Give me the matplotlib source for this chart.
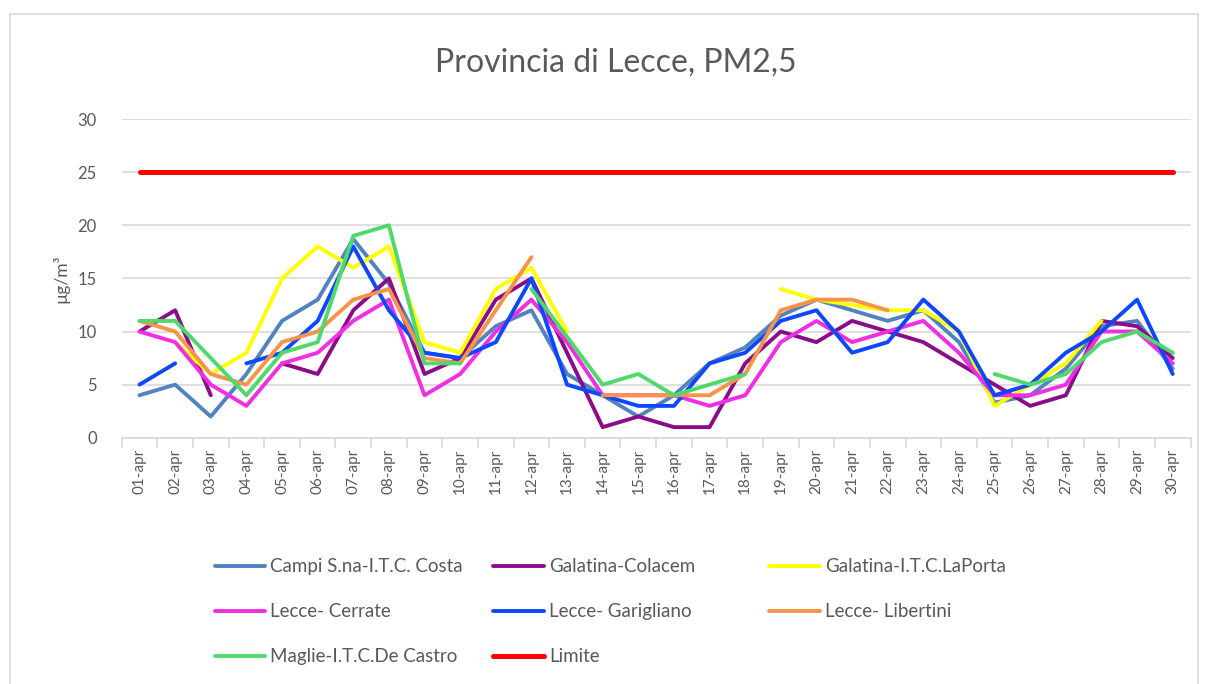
import numpy as np
import matplotlib
matplotlib.use("Agg")
import matplotlib.pyplot as plt
from matplotlib.patches import Rectangle

plt.rcParams['font.family'] = ['Lato', 'DejaVu Sans']

nan = np.nan
days = ["%02d-apr" % d for d in range(1, 31)]

# values (ug/m3), nan = missing
campi = [4, 5, 2, 6, 11, 13, 18.7, 14.5, 8, 7.5, 10.5, 12, 6, 4, 2, 4, 7, 8.5, 11.5, 13,
         12, 11, 12, 9, 3.3, 4, 6.5, 10.5, 11, 6.5]
colacem = [10, 12, 4, nan, 7, 6, 12, 15, 6, 7.5, 13, 15, 8, 1, 2, 1, 1, 7, 10, 9,
           11, 10, 9, 7, 5, 3, 4, 11, 10.5, 7.5]
laporta = [nan, 9, 6, 8, 15, 18, 16, 18, 9, 8, 14, 16, 10, nan, nan, nan, nan, nan, 14, 13,
           12.5, 12, 12, 10, 3, 5, 7, 11, nan, nan]
cerrate = [10, 9, 5, 3, 7, 8, 11, 13, 4, 6, 10, 13, 9, 4, 4, 4, 3, 4, 9, 11,
           9, 10, 11, 8, 4, 4, 5, 10, 10, 7]
garigliano = [5, 7, nan, 7, 8, 11, 18, 12, 8, 7.5, 9, 15, 5, 4, 3, 3, 7, 8, 11, 12,
              8, 9, 13, 10, 4, 5, 8, 10, 13, 6]
libertini = [11, 10, 6, 5, 9, 10, 13, 14, 7.5, 7, 12, 17, nan, 4, 4, 4, 4, 6, 12, 13,
             13, 12, nan, nan, nan, nan, nan, nan, nan, nan]
maglie = [11, 11, 7.5, 4, 8, 9, 19, 20, 7, 7, nan, 14, 9.5, 5, 6, 4, 5, 6, nan, nan,
          nan, nan, nan, nan, 6, 5, 6, 9, 10, 8]
limite = [25] * 30

names = ["Campi S.na-I.T.C. Costa", "Galatina-Colacem", "Galatina-I.T.C.LaPorta",
         "Lecce- Cerrate", "Lecce- Garigliano", "Lecce- Libertini",
         "Maglie-I.T.C.De Castro", "Limite"]
series = [campi, colacem, laporta, cerrate, garigliano, libertini, maglie, limite]
colors = ["#5282bf", "#8a0c88", "#ffff00", "#f02ee3", "#0d47ff", "#f7944a", "#4fd96a", "#ff0000"]

fig = plt.figure(figsize=(12.05, 6.84), dpi=100)
fig.patches.append(Rectangle((0.008, -0.05), 0.986, 1.03, transform=fig.transFigure,
                             fill=False, edgecolor="#d9d9d9", linewidth=1.2))
ax = fig.add_axes([0.101, 0.36, 0.887, 0.466])

x = np.arange(len(days))
handles = []
for vals, name, col in zip(series, names, colors):
    lw = 3.6 if name == "Limite" else 2.8
    h, = ax.plot(x, vals, color=col, linewidth=lw, label=name, solid_capstyle="round")
    handles.append(h)

ax.set_xlim(-0.5, 29.5)
ax.set_ylim(0, 30)
ax.set_yticks(range(0, 31, 5))
ax.set_xticks(x)
ax.set_xticklabels(days, rotation=90)
ax.set_xticks(np.arange(-0.5, 30, 1), minor=True)
ax.tick_params(axis="x", which="major", length=0, pad=8, labelsize=11, colors="#595959")
ax.tick_params(axis="x", which="minor", length=7, color="#d9d9d9", width=1.2)
ax.tick_params(axis="y", length=0, pad=18, labelsize=12, colors="#595959")
ax.grid(axis="y", color="#d9d9d9", linewidth=1.2)
ax.set_axisbelow(True)
for s in ["top", "right", "left"]:
    ax.spines[s].set_visible(False)
ax.spines["bottom"].set_color("#d9d9d9")
ax.spines["bottom"].set_linewidth(1.2)

ax.set_ylabel("µg/m³", fontsize=12.5, color="#595959", labelpad=6)
fig.text(0.511, 0.909, "Provincia di Lecce, PM2,5", ha="center", va="center",
         fontsize=23, color="#595959")

# legend: three columns, filled row by row like the original
columns = [[0, 3, 6], [1, 4, 7], [2, 5]]
col_x = [0.172, 0.403, 0.632]
for idx, cx in zip(columns, col_x):
    leg = fig.legend([handles[i] for i in idx], [names[i] for i in idx],
                     loc="upper left", bbox_to_anchor=(cx, 0.195), ncol=1, frameon=False,
                     fontsize=13.5, handlelength=2.7, handletextpad=0.27,
                     labelspacing=1.5, borderaxespad=0)
    for t in leg.get_texts():
        t.set_color("#595959")

fig.savefig("out.png", dpi=100)
